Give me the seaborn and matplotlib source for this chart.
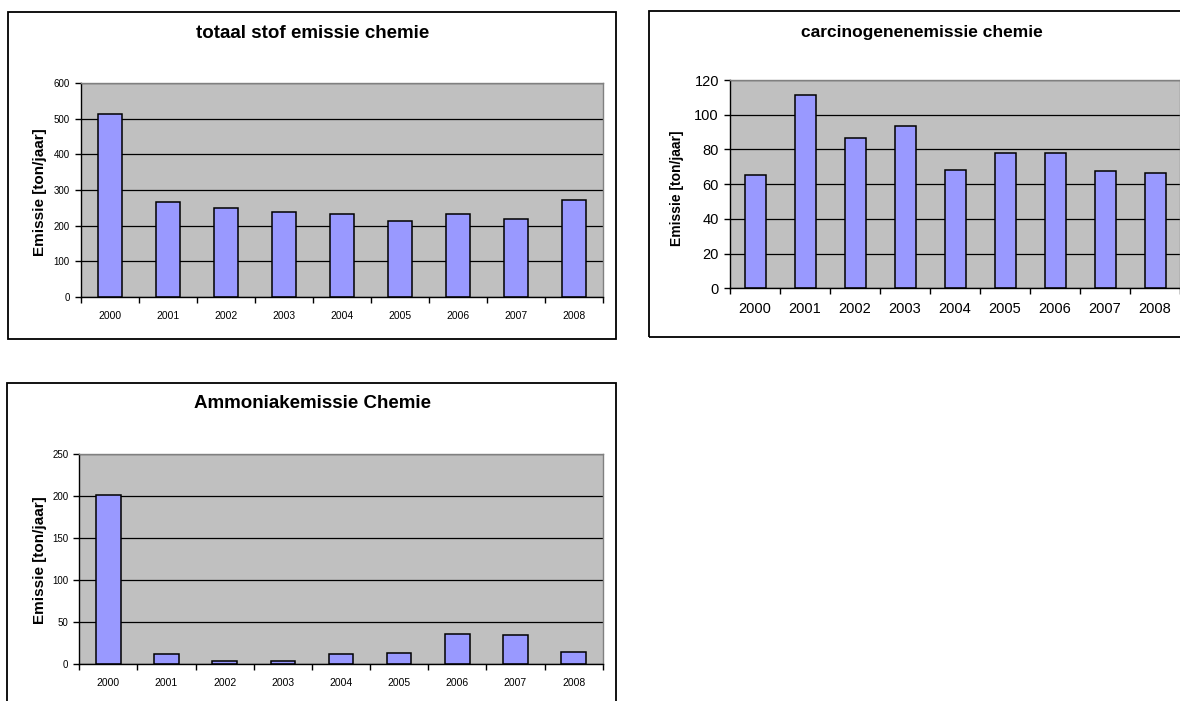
import numpy as np
import pandas as pd
import matplotlib
matplotlib.use("Agg")
import matplotlib.pyplot as plt
from matplotlib.patches import Rectangle
from matplotlib.ticker import FixedLocator, NullFormatter
import seaborn as sns

# Data
years = ["2000", "2001", "2002", "2003", "2004", "2005", "2006", "2007", "2008"]
stof = [513, 266, 250, 237, 233, 214, 233, 218, 271]
carcinogenen = [65.1, 111.4, 86.6, 93.3, 68.2, 78.0, 78.0, 67.4, 66.6]
ammoniak = [202, 12, 4, 4, 12, 14, 36, 35, 15]

sns.set_style("white")
plt.rcParams["font.family"] = ["Liberation Sans", "DejaVu Sans"]
plt.rcParams["text.color"] = "black"
plt.rcParams["xtick.color"] = "black"
plt.rcParams["ytick.color"] = "black"
plt.rcParams["axes.labelcolor"] = "black"

W, H = 1180, 701
fig = plt.figure(figsize=(W / 100, H / 100), dpi=100)

BAR = "#9999FF"
PLOT_BG = "#C0C0C0"


def px_axes(left, right, top, bottom):
    return [left / W, 1 - bottom / H, (right - left) / W, (bottom - top) / H]


def border(x0, y0, x1, y1):
    fig.add_artist(Rectangle((x0 / W, 1 - y1 / H), (x1 - x0) / W, (y1 - y0) / H,
                             transform=fig.transFigure, fill=False,
                             edgecolor="black", linewidth=1.3))


def panel(rect, values, ymax, ystep, title, title_xy, title_size,
          ylabel_xy, ylabel_size, xtick_size, ytick_size):
    ax = fig.add_axes(px_axes(*rect))
    df = pd.DataFrame({"Jaar": years, "Emissie": values})
    sns.barplot(data=df, x="Jaar", y="Emissie", ax=ax, color=BAR,
                saturation=1, edgecolor="black", linewidth=1.1, width=0.42)
    ax.set_facecolor(PLOT_BG)
    ax.set_xlim(-0.5, len(years) - 0.5)
    ax.set_ylim(0, ymax)
    ax.set_yticks(np.arange(0, ymax + ystep, ystep))
    ax.yaxis.grid(True, color="black", linewidth=0.9)
    ax.set_axisbelow(True)
    ax.set_xlabel("")
    ax.set_ylabel("")
    for s in ["left", "bottom"]:
        ax.spines[s].set_color("black")
        ax.spines[s].set_linewidth(1.0)
    for s in ["top", "right"]:
        ax.spines[s].set_color("#808080")
        ax.spines[s].set_linewidth(1.0)
    # category boundary ticks on x, labels in the middle
    ax.xaxis.set_minor_locator(FixedLocator(np.arange(-0.5, len(years), 1.0)))
    ax.xaxis.set_minor_formatter(NullFormatter())
    ax.tick_params(axis="x", which="major", length=0, pad=10,
                   labelsize=xtick_size, labelcolor="black")
    ax.tick_params(axis="x", which="minor", length=4, width=1, color="black",
                   direction="out", bottom=True)
    ax.tick_params(axis="y", length=4, width=1, color="black", direction="out",
                   left=True, pad=4, labelsize=ytick_size, labelcolor="black")
    fig.text(title_xy[0] / W, 1 - title_xy[1] / H, title, ha="center",
             va="center", fontsize=title_size, fontweight="bold", color="black")
    fig.text(ylabel_xy[0] / W, 1 - ylabel_xy[1] / H, "Emissie [ton/jaar]",
             ha="center", va="center", rotation=90, fontsize=ylabel_size,
             fontweight="bold", color="black")
    return ax


# panel borders
border(8, 11.7, 616, 339.3)
border(649.3, 10.7, 1300, 337.3)
border(7, 383.3, 615.7, 800)

panel((81, 603, 83.3, 296.7), stof, 600, 100, "totaal stof emissie chemie",
      (313, 33), 13.5, (40, 192), 11, 7.5, 7)
panel((730, 1180, 80, 288.3), carcinogenen, 120, 20, "carcinogenenemissie chemie",
      (922, 33), 12.5, (677, 188), 10, 10.5, 10.5)
panel((79.3, 602.7, 454.3, 664.3), ammoniak, 250, 50, "Ammoniakemissie Chemie",
      (312, 404), 13.5, (40, 560), 11, 7.5, 7)

fig.savefig("out.png", dpi=100)
